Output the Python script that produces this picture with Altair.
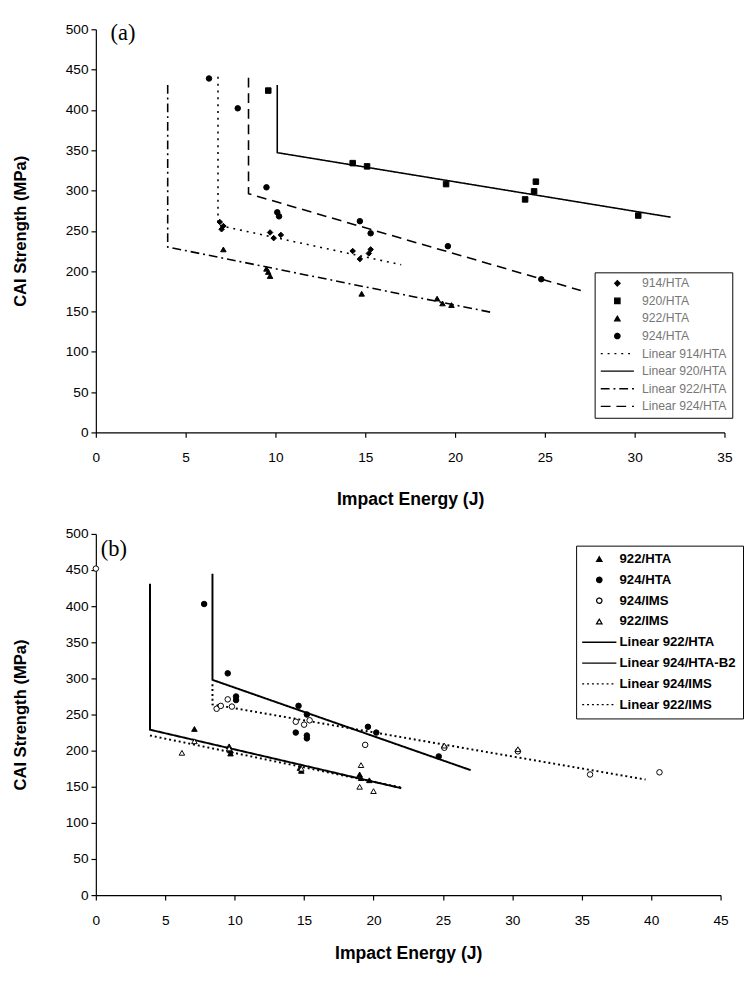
import altair as alt
import pandas as pd

# ---------------- Panel (a) data ----------------
A_914_E = [6.9, 7.0, 7.1, 9.7, 9.9, 10.3, 14.3, 14.7, 15.2, 15.3]
A_914_S = [261, 252, 256, 248, 241, 245, 225, 215, 222, 227]
A_920_E = [9.6, 14.3, 15.1, 19.5, 23.9, 24.4, 24.5, 30.2]
A_920_S = [424, 334, 330, 308, 289, 299, 311, 269]
A_922_E = [7.1, 9.5, 9.6, 9.7, 14.8, 19.0, 19.3, 19.8]
A_922_S = [227, 203, 199, 194, 172, 166, 160, 158]
A_924_E = [6.3, 7.9, 9.5, 10.1, 10.2, 14.7, 15.3, 19.6, 24.8]
A_924_S = [439, 402, 304, 273, 268, 262, 247, 231, 190]

A_L914_E = [6.8, 6.8, 17.0]
A_L914_S = [441, 257, 208]
A_L920_E = [10.1, 10.1, 32.0]
A_L920_S = [431, 347, 267]
A_L922_E = [4.0, 4.0, 22.0]
A_L922_S = [431, 230, 149]
A_L924_E = [8.5, 8.5, 27.0]
A_L924_S = [440, 296, 176]

A_POINT_NAMES = ["914/HTA", "920/HTA", "922/HTA", "924/HTA"]
A_LINE_NAMES = ["Linear 914/HTA", "Linear 920/HTA", "Linear 922/HTA", "Linear 924/HTA"]
A_X_TICKS = [0, 5, 10, 15, 20, 25, 30, 35]

# ---------------- Panel (b) data ----------------
B_922HTA_E = [7.1, 9.6, 9.7, 9.7, 14.7, 14.8, 19.0, 19.1, 19.7]
B_922HTA_S = [230, 206, 200, 196, 176, 172, 167, 162, 159]
B_924HTA_E = [7.8, 9.5, 10.1, 10.1, 14.4, 14.6, 15.2, 15.2, 15.2, 19.6, 20.2, 24.7]
B_924HTA_S = [403, 307, 275, 270, 225, 262, 250, 221, 217, 233, 225, 192]
B_924IMS_E = [0.0, 8.7, 9.0, 9.5, 9.8, 14.4, 15.0, 15.4, 19.4, 25.1, 30.4, 35.6, 40.6]
B_924IMS_S = [452, 258, 262, 271, 261, 240, 236, 242, 208, 204, 199, 167, 170]
B_922IMS_E = [6.2, 7.1, 9.6, 14.8, 19.1, 19.0, 20.0, 25.1, 30.4]
B_922IMS_S = [197, 213, 203, 175, 180, 150, 144, 207, 202]

B_L922HTA_E = [3.9, 3.9, 22.0]
B_L922HTA_S = [431, 229, 148]
B_L924HTA_E = [8.4, 8.4, 27.0]
B_L924HTA_S = [445, 298, 173]
B_L924IMS_E = [8.4, 8.4, 39.6]
B_L924IMS_S = [292, 264, 160]
B_L922IMS_E = [3.9, 22.0]
B_L922IMS_S = [221, 149]

B_POINT_NAMES = ["922/HTA", "924/HTA", "924/IMS", "922/IMS"]
B_LINE_NAMES = ["Linear 922/HTA", "Linear 924/HTA-B2", "Linear 924/IMS", "Linear 922/IMS"]
B_X_TICKS = [0, 5, 10, 15, 20, 25, 30, 35, 40, 45]

Y_TICKS = [0, 50, 100, 150, 200, 250, 300, 350, 400, 450, 500]


def points_frame(names, xs, ys):
    rows = []
    for n, ex, sy in zip(names, xs, ys):
        for e, s in zip(ex, sy):
            rows.append({"energy": e, "cai": s, "series": n})
    return pd.DataFrame(rows)


def lines_frame(names, xs, ys):
    rows = []
    for n, ex, sy in zip(names, xs, ys):
        for i, (e, s) in enumerate(zip(ex, sy)):
            rows.append({"energy": e, "cai": s, "series": n, "idx": i})
    return pd.DataFrame(rows)


FONT = "Liberation Sans, Arial, sans-serif"


def panel(pts, lns, pnames, pshapes, pfills, lnames, ldashes, lwidth, line_path,
          xmax, xticks, width, height, legend, label, label_x, label_y,
          tick_font, tick_size, x_label_pad, x_title_pad):
    domain = pnames + lnames
    shapes = pshapes + [line_path] * len(lnames)
    fills = pfills + ["transparent"] * len(lnames)
    strokes = ["black"] * len(domain)
    dashes = [[1, 0]] * len(pnames) + ldashes

    x_enc = alt.X("energy:Q",
                  scale=alt.Scale(domain=[0, xmax], nice=False, zero=True),
                  axis=alt.Axis(values=xticks, title="Impact Energy (J)", grid=False,
                                labelFont=tick_font, labelFontSize=tick_size,
                                labelPadding=x_label_pad, titlePadding=x_title_pad,
                                titleFont=FONT, titleFontSize=18, titleFontWeight="bold",
                                tickSize=5, labelFlush=False))
    y_enc = alt.Y("cai:Q",
                  scale=alt.Scale(domain=[0, 500], nice=False),
                  axis=alt.Axis(values=Y_TICKS, title="CAI Strength (MPa)", grid=False,
                                labelFont=tick_font, labelFontSize=tick_size,
                                labelPadding=3, titlePadding=37,
                                titleFont=FONT, titleFontSize=17, titleFontWeight="bold",
                                tickSize=5, labelFlush=False))
    stroke_enc = alt.Stroke("series:N", scale=alt.Scale(domain=domain, range=strokes),
                            legend=legend)

    lines = alt.Chart(lns).mark_line(strokeWidth=lwidth).encode(
        x=x_enc, y=y_enc,
        stroke=stroke_enc,
        strokeDash=alt.StrokeDash("series:N", scale=alt.Scale(domain=domain, range=dashes),
                                  legend=legend),
        order=alt.Order("idx:Q"),
    )
    points = alt.Chart(pts).mark_point(strokeWidth=1, opacity=1, size=32).encode(
        x=x_enc, y=y_enc,
        stroke=stroke_enc,
        shape=alt.Shape("series:N", scale=alt.Scale(domain=domain, range=shapes), legend=legend),
        fill=alt.Fill("series:N", scale=alt.Scale(domain=domain, range=fills), legend=legend),
    )
    text = alt.Chart(pd.DataFrame({"lbl": [label]})).mark_text(
        font="Liberation Serif, Times New Roman, serif", fontSize=23, align="left",
        baseline="middle", color="black"
    ).encode(x=alt.value(label_x), y=alt.value(label_y), text="lbl:N")

    return alt.layer(lines, points, text).properties(width=width, height=height)


# ---------------- Build panel (a) ----------------
a_pts = points_frame(A_POINT_NAMES, [A_914_E, A_920_E, A_922_E, A_924_E],
                     [A_914_S, A_920_S, A_922_S, A_924_S])
a_lns = lines_frame(A_LINE_NAMES, [A_L914_E, A_L920_E, A_L922_E, A_L924_E],
                    [A_L914_S, A_L920_S, A_L922_S, A_L924_S])
legend_a = alt.Legend(title=None, orient="none", legendX=511, legendY=249,
                      strokeColor="black", fillColor="white", padding=5, cornerRadius=0,
                      labelFont=FONT, labelFontSize=12.5, labelColor="#777777",
                      symbolSize=30, symbolStrokeWidth=1.3,
                      symbolOffset=12, labelOffset=19, rowPadding=5)
chart_a = panel(a_pts, a_lns, A_POINT_NAMES, ["diamond", "square", "triangle-up", "circle"],
                ["black", "black", "black", "black"], A_LINE_NAMES,
                [[2, 5], [1, 0], [9, 4, 2, 4], [10, 6]], 1.6, "M-6.2,0H6.2",
                35, A_X_TICKS, 644, 413, legend_a, "(a)", 15, 4,
                FONT, 14, 14, 27)

# ---------------- Build panel (b) ----------------
b_pts = points_frame(B_POINT_NAMES, [B_922HTA_E, B_924HTA_E, B_924IMS_E, B_922IMS_E],
                     [B_922HTA_S, B_924HTA_S, B_924IMS_S, B_922IMS_S])
b_lns = lines_frame(B_LINE_NAMES, [B_L922HTA_E, B_L924HTA_E, B_L924IMS_E, B_L922IMS_E],
                    [B_L922HTA_S, B_L924HTA_S, B_L924IMS_S, B_L922IMS_S])
legend_b = alt.Legend(title=None, orient="none", legendX=492, legendY=12,
                      strokeColor="black", fillColor="white", padding=7, cornerRadius=0,
                      labelFont=FONT, labelFontSize=13.5, labelFontWeight="bold",
                      labelColor="black",
                      symbolSize=30, symbolStrokeWidth=1.3,
                      symbolOffset=10, labelOffset=14, rowPadding=6.3)
chart_b = panel(b_pts, b_lns, B_POINT_NAMES, ["triangle-up", "circle", "circle", "triangle-up"],
                ["black", "black", "white", "white"], B_LINE_NAMES,
                [[1, 0], [1, 0], [2, 3], [2, 3]], 2, "M-6.4,0H6.4",
                45, B_X_TICKS, 640, 370, legend_b, "(b)", 5, 16,
                "Liberation Sans Narrow, Arial Narrow, Liberation Sans, sans-serif", 14, 14, 18)

chart = alt.vconcat(chart_a, chart_b, spacing=19).resolve_scale(
    x="independent", y="independent", shape="independent", fill="independent",
    strokeDash="independent", stroke="independent"
).resolve_legend(
    shape="independent", fill="independent", strokeDash="independent", stroke="independent"
).properties(
    padding={"left": 3, "top": 3, "right": 0, "bottom": 0}
).configure_view(stroke=None).configure_axis(
    domainColor="black", tickColor="black", labelColor="black", titleColor="black",
    domainWidth=1.2, tickWidth=1.2
)

chart.save("out.html", embed_options={"renderer": "svg", "actions": False})
